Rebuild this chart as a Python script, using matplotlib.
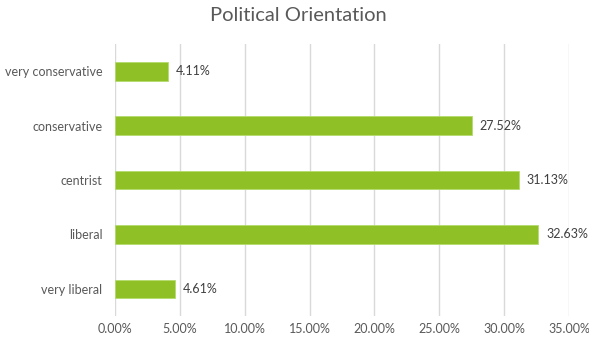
import matplotlib
matplotlib.use("Agg")
import matplotlib.pyplot as plt
from matplotlib.ticker import FuncFormatter

categories = ["very liberal", "liberal", "centrist", "conservative", "very conservative"]
values = [4.61, 32.63, 31.13, 27.52, 4.11]
ticks = [0, 5, 10, 15, 20, 25, 30, 35]

plt.rcParams['font.family'] = ['Lato', 'DejaVu Sans']

fig = plt.figure(figsize=(5.89, 3.39), dpi=100)
ax = fig.add_axes([0.1952, 0.0678, 0.7708, 0.802])

ypos = list(range(len(categories)))
ax.barh(ypos, values, height=0.34, color="#8FC126", edgecolor="#B5DB6E", linewidth=0.6, zorder=3)

for y, v in zip(ypos, values):
    ax.text(v + 0.6, y, "%.2f%%" % v, va="center", ha="left", fontsize=9, color="#404040")

ax.set_xlim(0, 35)
ax.set_ylim(-0.5, len(categories) - 0.5)
ax.set_xticks(ticks)
ax.xaxis.set_major_formatter(FuncFormatter(lambda x, p: "%.2f%%" % x))
ax.set_yticks(ypos)
ax.set_yticklabels(categories)
ax.tick_params(axis="both", length=0, labelsize=9, colors="#595959")
ax.tick_params(axis="y", pad=9)
ax.tick_params(axis="x", pad=5)
ax.grid(axis="x", color="#D9D9D9", linewidth=1, zorder=0)
for s in ax.spines.values():
    s.set_visible(False)

fig.text(0.506, 0.955, "Political Orientation", ha="center", va="center", fontsize=14.5, color="#595959")

fig.savefig("out.png", dpi=100)
